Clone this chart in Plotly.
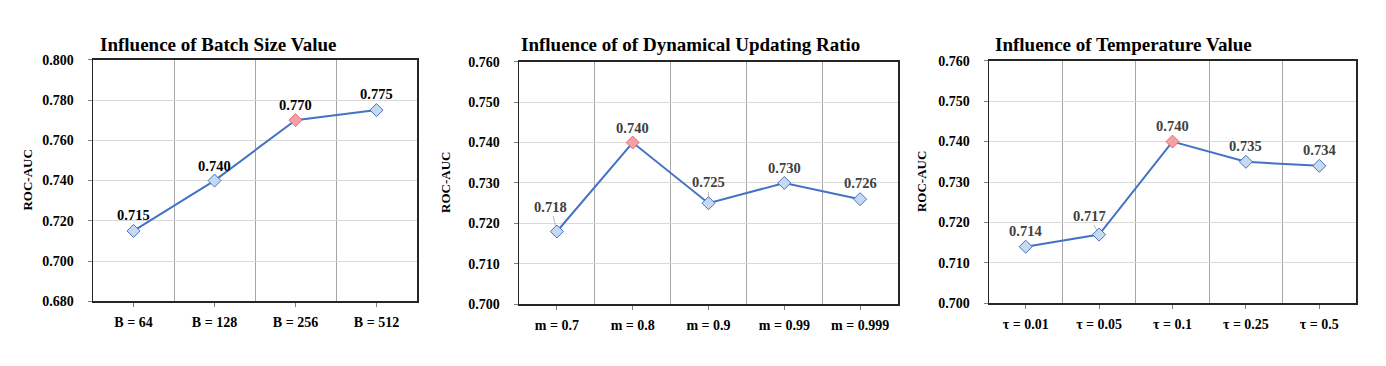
import plotly.graph_objects as go

# ---------------- data ----------------
titles = ["Influence of Batch Size Value",
          "Influence of of Dynamical Updating Ratio",
          "Influence of Temperature Value"]

batch_labels = ["B = 64", "B = 128", "B = 256", "B = 512"]
batch_values = [0.715, 0.740, 0.770, 0.775]

ratio_labels = ["m = 0.7", "m = 0.8", "m = 0.9", "m = 0.99", "m = 0.999"]
ratio_values = [0.718, 0.740, 0.725, 0.730, 0.726]

temp_labels = ["τ = 0.01", "τ = 0.05", "τ = 0.1", "τ = 0.25", "τ = 0.5"]
temp_values = [0.714, 0.717, 0.740, 0.735, 0.734]

y_ranges = [[0.680, 0.800], [0.700, 0.760], [0.700, 0.760]]
y_dticks = [0.02, 0.01, 0.01]

# ---------------- layout geometry (pixels) ----------------
W, H = 1386, 366
boxes = [(93, 417, 55, 307), (519, 898, 57, 310), (989, 1356, 56, 309)]
title_x = [98, 519, 993]
ytitle_x = [28, 446, 921]
label_colors = ["#000000", "#404040", "#404040"]
# label offsets (dx, dy, leader) per point
offsets = [
    [(0, -16, False), (0, -15, False), (0, -15, False), (0, -16, False)],
    [(-6, -25, True), (0, -15, False), (0, -21, True), (0, -15, False), (0, -16, False)],
    [(0, -16, False), (-10, -19, True), (0, -16, False), (0, -16, False), (0, -16, False)],
]

FONT = "Liberation Serif"
LINE = "#4472c4"
FILL = "#c6d9f1"
HI_FILL = "#f4a0a6"
HI_LINE = "#e07070"

series = [(batch_labels, batch_values), (ratio_labels, ratio_values), (temp_labels, temp_values)]

fig = go.Figure()
annotations = []

for i, ((labels, vals), (x0, x1, y0, y1)) in enumerate(zip(series, boxes)):
    n = len(labels)
    xs = list(range(n))
    best = vals.index(max(vals)) if i > 0 else 2
    fills = [HI_FILL if k == best else FILL for k in xs]
    lines = [HI_LINE if k == best else LINE for k in xs]
    ax_id = "" if i == 0 else str(i + 1)
    fig.add_trace(go.Scatter(
        x=xs, y=vals, mode="lines+markers",
        xaxis="x" + ax_id, yaxis="y" + ax_id,
        line=dict(color=LINE, width=2),
        marker=dict(symbol="diamond", size=10, color=fills,
                    line=dict(color=lines, width=1)),
        showlegend=False, hoverinfo="skip"))

    xd = [x0 / W, x1 / W]
    yd = [1 - y1 / H, 1 - y0 / H]
    xaxis = dict(
        domain=xd, anchor="y" + ax_id, range=[-0.5, n - 0.5],
        tickmode="array", tickvals=xs, ticktext=labels,
        ticks="outside", ticklen=4, tickcolor="#7f7f7f",
        showgrid=False, zeroline=False,
        showline=True, mirror=True, linecolor="#262626", linewidth=1.5,
        tickfont=dict(family=FONT, size=14, color="#000000", weight="bold"),
        ticklabelstandoff=3,
        minor=dict(tickmode="array", tickvals=[k + 0.5 for k in xs[:-1]],
                   showgrid=True, gridcolor="#a6a6a6", gridwidth=1, ticks=""),
        fixedrange=True)
    yaxis = dict(
        domain=yd, anchor="x" + ax_id, range=y_ranges[i],
        dtick=y_dticks[i], tick0=y_ranges[i][0], tickformat=".3f",
        ticks="outside", ticklen=4, tickcolor="#7f7f7f",
        showgrid=True, gridcolor="#d9d9d9", gridwidth=1, zeroline=False,
        showline=True, mirror=True, linecolor="#262626", linewidth=1.5,
        tickfont=dict(family=FONT, size=14, color="#000000", weight="bold"),
        ticklabelstandoff=11,
        fixedrange=True)
    fig.update_layout(**{"xaxis" + ax_id: xaxis, "yaxis" + ax_id: yaxis})

    # title
    annotations.append(dict(
        text=titles[i], xref="paper", yref="paper",
        x=title_x[i] / W, y=1 - 39 / H, xanchor="left", yanchor="middle",
        showarrow=False,
        font=dict(family=FONT, size=19, color="#000000", weight="bold")))
    # y-axis title
    annotations.append(dict(
        text="ROC-AUC", xref="paper", yref="paper",
        x=ytitle_x[i] / W, y=1 - ((y0 + y1) / 2) / H,
        xanchor="center", yanchor="middle", textangle=-90, showarrow=False,
        font=dict(family=FONT, size=13, color="#000000", weight="bold")))
    # data labels
    for k, v in enumerate(vals):
        dx, dy, leader = offsets[i][k]
        a = dict(
            text=f"{v:.3f}", x=k, y=v, xref="x" + ax_id, yref="y" + ax_id,
            font=dict(family=FONT, size=14.5, color=label_colors[i], weight="bold"))
        if leader:
            a.update(showarrow=True, ax=dx, ay=dy, axref="pixel", ayref="pixel",
                     arrowhead=0, arrowwidth=0.8, arrowcolor="#a6a6a6",
                     standoff=5, xanchor="center", yanchor="middle")
        else:
            a.update(showarrow=False, xshift=dx, yshift=-dy,
                     xanchor="center", yanchor="middle")
        annotations.append(a)

fig.update_layout(
    width=W, height=H, margin=dict(l=0, r=0, t=0, b=0),
    paper_bgcolor="white", plot_bgcolor="white",
    annotations=annotations,
    font=dict(family=FONT))

fig.write_html("out.html",
               config={"displayModeBar": False, "staticPlot": True},
               post_script="document.body.style.margin='0';document.body.style.overflow='hidden';")
